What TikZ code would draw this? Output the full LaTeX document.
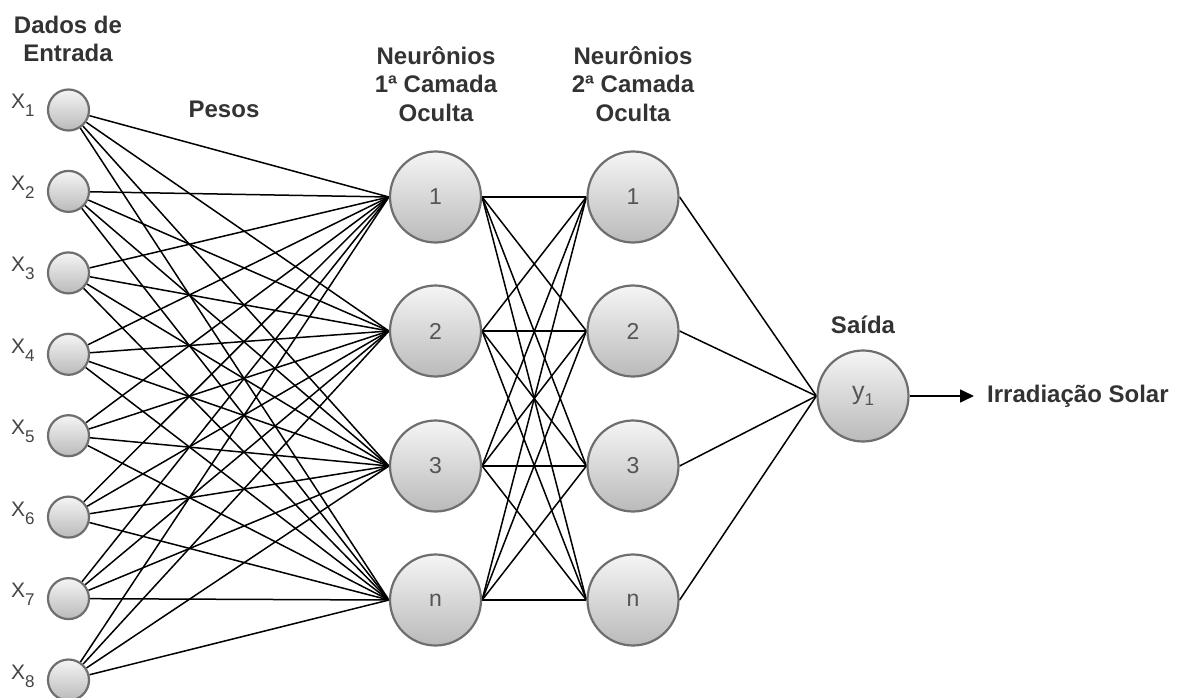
\documentclass[tikz,border=0pt]{standalone}
\usepackage{fontspec}
\setmainfont{Liberation Sans}
\usetikzlibrary{arrows.meta,backgrounds}
\definecolor{headtxt}{HTML}{333333}
\definecolor{numtxt}{HTML}{555555}
\definecolor{lbltxt}{HTML}{444444}
\definecolor{ringcol}{HTML}{6E6E6E}
\definecolor{filltop}{HTML}{F5F5F5}
\definecolor{fillbot}{HTML}{BABABA}
\begin{document}
\begin{tikzpicture}[x=1pt,y=-1pt,
  neuron/.style={circle, draw=ringcol, line width=2.2pt, top color=filltop,
    bottom color=fillbot, inner sep=0pt, text=numtxt,
    font=\fontsize{23}{23}\selectfont},
  inpnode/.style={neuron, minimum size=41pt},
  hidnode/.style={neuron, minimum size=91pt},
  conn/.style={black, line width=1.5pt},
  header/.style={align=center, text=headtxt, inner sep=0pt,
    font=\fontsize{24}{28.5}\selectfont\bfseries},
  xlabel/.style={anchor=base west, inner sep=0pt, text=lbltxt,
    font=\fontsize{21}{21}\selectfont}
]
\useasboundingbox (0,0) rectangle (1183,698);

% input layer
\foreach \i/\yy in {1/110,2/191.4,3/272.9,4/354.3,5/435.7,6/517.1,7/598.6,8/680}{
  \node[inpnode] (x\i) at (68.5,\yy) {};
  \node[xlabel] (lx\i) at (11,\yy-1) {X\raisebox{-8pt}{\fontsize{17}{17}\selectfont\i}};
}

% hidden layers
\foreach \j/\yy/\t in {1/197/1,2/331/2,3/466/3,4/600/n}{
  \node[hidnode] (a\j) at (435.5,\yy) {\t};
  \node[hidnode] (b\j) at (633,\yy) {\t};
}

% output neuron
\node[hidnode] (y) at (863,396) {\fontsize{25}{25}\selectfont y\raisebox{-6pt}{\fontsize{17}{17}\selectfont 1}};

% labels
\node[header] (hin) at (68,39) {Dados de\\Entrada};
\node[header] (hw) at (224,109) {Pesos};
\node[header] (h1) at (436,84) {Neurônios\\1ª Camada\\Oculta};
\node[header] (h2) at (633,84) {Neurônios\\2ª Camada\\Oculta};
\node[header] (hout) at (863,325) {Saída};
\node[header, anchor=west] (out) at (987,396) {Irradiação Solar};

% weights
\begin{scope}[on background layer]
  \foreach \i in {1,...,8}{
    \foreach \j in {1,...,4}{
      \draw[conn] (x\i) -- (a\j.west);
    }
  }
  \foreach \i in {1,...,4}{
    \foreach \j in {1,...,4}{
      \draw[conn] (a\i.east) -- (b\j.west);
    }
    \draw[conn] (b\i.east) -- (y.west);
  }
\end{scope}
\draw[conn, -{Triangle[length=14pt,width=13pt]}] (y.east) -- ([xshift=-13pt]out.west);
\end{tikzpicture}
\end{document}
